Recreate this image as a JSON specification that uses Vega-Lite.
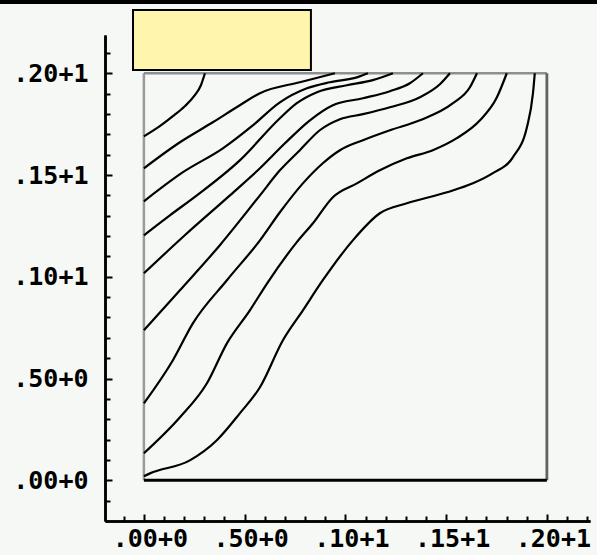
{
  "$schema": "https://vega.github.io/schema/vega-lite/v6.json",
  "width": 485,
  "height": 486,
  "autosize": "none",
  "padding": {"left": 105, "top": 35, "right": 7, "bottom": 34},
  "background": "#f5f8f4",
  "config": {
    "view": {"stroke": null},
    "axis": {
      "grid": false,
      "title": null,
      "domainColor": "#000000",
      "domainWidth": 2.5,
      "tickColor": "#000000",
      "tickWidth": 2,
      "tickSize": -5,
      "labelFont": "DejaVu Sans Mono",
      "labelFontWeight": "bold",
      "labelFontSize": 25,
      "labelColor": "#000000",
      "labelOverlap": false,
      "labelBound": false,
      "labelFlush": false
    }
  },
  "resolve": {"axis": {"x": "independent", "y": "independent"}},
  "datasets": {
    "lines": [
      {"curve": 1, "i": 1, "x": 0, "y": 1.690},
      {"curve": 1, "i": 2, "x": 0.079, "y": 1.740},
      {"curve": 1, "i": 3, "x": 0.144, "y": 1.789},
      {"curve": 1, "i": 4, "x": 0.203, "y": 1.838},
      {"curve": 1, "i": 5, "x": 0.253, "y": 1.892},
      {"curve": 1, "i": 6, "x": 0.283, "y": 1.941},
      {"curve": 1, "i": 7, "x": 0.303, "y": 2.0},
      {"curve": 2, "i": 1, "x": 0, "y": 1.533},
      {"curve": 2, "i": 2, "x": 0.179, "y": 1.661},
      {"curve": 2, "i": 3, "x": 0.342, "y": 1.759},
      {"curve": 2, "i": 4, "x": 0.476, "y": 1.843},
      {"curve": 2, "i": 5, "x": 0.576, "y": 1.902},
      {"curve": 2, "i": 6, "x": 0.774, "y": 1.956},
      {"curve": 2, "i": 7, "x": 0.948, "y": 2.0},
      {"curve": 3, "i": 1, "x": 0, "y": 1.371},
      {"curve": 3, "i": 2, "x": 0.194, "y": 1.514},
      {"curve": 3, "i": 3, "x": 0.392, "y": 1.631},
      {"curve": 3, "i": 4, "x": 0.536, "y": 1.740},
      {"curve": 3, "i": 5, "x": 0.675, "y": 1.857},
      {"curve": 3, "i": 6, "x": 0.809, "y": 1.926},
      {"curve": 3, "i": 7, "x": 0.923, "y": 1.956},
      {"curve": 3, "i": 8, "x": 1.057, "y": 1.980},
      {"curve": 3, "i": 9, "x": 1.112, "y": 2.0},
      {"curve": 4, "i": 1, "x": 0, "y": 1.204},
      {"curve": 4, "i": 2, "x": 0.129, "y": 1.302},
      {"curve": 4, "i": 3, "x": 0.263, "y": 1.400},
      {"curve": 4, "i": 4, "x": 0.476, "y": 1.572},
      {"curve": 4, "i": 5, "x": 0.675, "y": 1.779},
      {"curve": 4, "i": 6, "x": 0.759, "y": 1.853},
      {"curve": 4, "i": 7, "x": 0.859, "y": 1.907},
      {"curve": 4, "i": 8, "x": 1.007, "y": 1.941},
      {"curve": 4, "i": 9, "x": 1.136, "y": 1.966},
      {"curve": 4, "i": 10, "x": 1.236, "y": 2.0},
      {"curve": 5, "i": 1, "x": 0, "y": 1.017},
      {"curve": 5, "i": 2, "x": 0.203, "y": 1.204},
      {"curve": 5, "i": 3, "x": 0.427, "y": 1.400},
      {"curve": 5, "i": 4, "x": 0.576, "y": 1.533},
      {"curve": 5, "i": 5, "x": 0.700, "y": 1.656},
      {"curve": 5, "i": 6, "x": 0.824, "y": 1.769},
      {"curve": 5, "i": 7, "x": 0.938, "y": 1.843},
      {"curve": 5, "i": 8, "x": 1.087, "y": 1.877},
      {"curve": 5, "i": 9, "x": 1.221, "y": 1.912},
      {"curve": 5, "i": 10, "x": 1.320, "y": 1.951},
      {"curve": 5, "i": 11, "x": 1.385, "y": 2.0},
      {"curve": 6, "i": 1, "x": 0, "y": 0.737},
      {"curve": 6, "i": 2, "x": 0.179, "y": 0.934},
      {"curve": 6, "i": 3, "x": 0.377, "y": 1.155},
      {"curve": 6, "i": 4, "x": 0.576, "y": 1.400},
      {"curve": 6, "i": 5, "x": 0.675, "y": 1.523},
      {"curve": 6, "i": 6, "x": 0.774, "y": 1.622},
      {"curve": 6, "i": 7, "x": 0.873, "y": 1.720},
      {"curve": 6, "i": 8, "x": 0.973, "y": 1.774},
      {"curve": 6, "i": 9, "x": 1.087, "y": 1.799},
      {"curve": 6, "i": 10, "x": 1.221, "y": 1.833},
      {"curve": 6, "i": 11, "x": 1.370, "y": 1.882},
      {"curve": 6, "i": 12, "x": 1.469, "y": 1.946},
      {"curve": 6, "i": 13, "x": 1.519, "y": 2.0},
      {"curve": 7, "i": 1, "x": 0, "y": 0.378},
      {"curve": 7, "i": 2, "x": 0.144, "y": 0.590},
      {"curve": 7, "i": 3, "x": 0.243, "y": 0.771},
      {"curve": 7, "i": 4, "x": 0.412, "y": 0.983},
      {"curve": 7, "i": 5, "x": 0.576, "y": 1.179},
      {"curve": 7, "i": 6, "x": 0.675, "y": 1.317},
      {"curve": 7, "i": 7, "x": 0.789, "y": 1.459},
      {"curve": 7, "i": 8, "x": 0.888, "y": 1.558},
      {"curve": 7, "i": 9, "x": 0.973, "y": 1.622},
      {"curve": 7, "i": 10, "x": 1.087, "y": 1.671},
      {"curve": 7, "i": 11, "x": 1.221, "y": 1.720},
      {"curve": 7, "i": 12, "x": 1.370, "y": 1.769},
      {"curve": 7, "i": 13, "x": 1.534, "y": 1.853},
      {"curve": 7, "i": 14, "x": 1.618, "y": 1.931},
      {"curve": 7, "i": 15, "x": 1.653, "y": 2.0},
      {"curve": 8, "i": 1, "x": 0, "y": 0.133},
      {"curve": 8, "i": 2, "x": 0.179, "y": 0.310},
      {"curve": 8, "i": 3, "x": 0.313, "y": 0.477},
      {"curve": 8, "i": 4, "x": 0.412, "y": 0.673},
      {"curve": 8, "i": 5, "x": 0.526, "y": 0.835},
      {"curve": 8, "i": 6, "x": 0.615, "y": 0.973},
      {"curve": 8, "i": 7, "x": 0.759, "y": 1.170},
      {"curve": 8, "i": 8, "x": 0.839, "y": 1.263},
      {"curve": 8, "i": 9, "x": 0.938, "y": 1.391},
      {"curve": 8, "i": 10, "x": 1.057, "y": 1.459},
      {"curve": 8, "i": 11, "x": 1.171, "y": 1.523},
      {"curve": 8, "i": 12, "x": 1.305, "y": 1.582},
      {"curve": 8, "i": 13, "x": 1.434, "y": 1.622},
      {"curve": 8, "i": 14, "x": 1.553, "y": 1.681},
      {"curve": 8, "i": 15, "x": 1.668, "y": 1.769},
      {"curve": 8, "i": 16, "x": 1.752, "y": 1.882},
      {"curve": 8, "i": 17, "x": 1.801, "y": 2.0},
      {"curve": 9, "i": 1, "x": 0, "y": 0.020},
      {"curve": 9, "i": 2, "x": 0.030, "y": 0.034},
      {"curve": 9, "i": 3, "x": 0.228, "y": 0.098},
      {"curve": 9, "i": 4, "x": 0.362, "y": 0.197},
      {"curve": 9, "i": 5, "x": 0.476, "y": 0.329},
      {"curve": 9, "i": 6, "x": 0.576, "y": 0.457},
      {"curve": 9, "i": 7, "x": 0.690, "y": 0.688},
      {"curve": 9, "i": 8, "x": 0.789, "y": 0.835},
      {"curve": 9, "i": 9, "x": 0.888, "y": 0.983},
      {"curve": 9, "i": 10, "x": 1.037, "y": 1.179},
      {"curve": 9, "i": 11, "x": 1.171, "y": 1.312},
      {"curve": 9, "i": 12, "x": 1.305, "y": 1.361},
      {"curve": 9, "i": 13, "x": 1.504, "y": 1.415},
      {"curve": 9, "i": 14, "x": 1.633, "y": 1.459},
      {"curve": 9, "i": 15, "x": 1.732, "y": 1.509},
      {"curve": 9, "i": 16, "x": 1.831, "y": 1.587},
      {"curve": 9, "i": 17, "x": 1.901, "y": 1.735},
      {"curve": 9, "i": 18, "x": 1.931, "y": 1.902},
      {"curve": 9, "i": 19, "x": 1.940, "y": 2.0}
    ],
    "edges": [
      {"edge": "left", "x": 0, "x2": 0, "y": 0, "y2": 2},
      {"edge": "top", "x": 0, "x2": 2, "y": 2, "y2": 2},
      {"edge": "right", "x": 2, "x2": 2, "y": 0, "y2": 2},
      {"edge": "bottom", "x": 0, "x2": 2, "y": 0, "y2": 0}
    ],
    "banner": [
      {"x": -0.054, "x2": 0.829, "y": 2.016, "y2": 2.311}
    ],
    "topbar": [
      {"x": -0.72, "x2": 2.26, "y": 2.352, "y2": 2.352}
    ]
  },
  "layer": [
    {
      "data": {"name": "edges"},
      "mark": {"type": "rule"},
      "encoding": {
        "x": {"field": "x", "type": "quantitative", "scale": {"domain": [-0.193, 2.214], "nice": false, "zero": false},
          "axis": {"orient": "bottom", "values": [0, 0.5, 1, 1.5, 2],
            "labelPadding": 12,
            "labelOffset": 6,
            "tickSize": -7,
            "labelExpr": "abs(datum.value) < 0.01 ? '.00+0' : abs(datum.value - 0.5) < 0.01 ? '.50+0' : abs(datum.value - 1) < 0.01 ? '.10+1' : abs(datum.value - 1.5) < 0.01 ? '.15+1' : '.20+1'"}},
        "x2": {"field": "x2"},
        "y": {"field": "y", "type": "quantitative", "scale": {"domain": [-0.2, 2.188], "nice": false, "zero": false},
          "axis": {"orient": "left", "values": [0, 0.5, 1, 1.5, 2],
            "labelPadding": 24,
            "tickSize": -7,
            "labelExpr": "abs(datum.value) < 0.01 ? '.00+0' : abs(datum.value - 0.5) < 0.01 ? '.50+0' : abs(datum.value - 1) < 0.01 ? '.10+1' : abs(datum.value - 1.5) < 0.01 ? '.15+1' : '.20+1'"}},
        "y2": {"field": "y2"},
        "color": {"field": "edge", "type": "nominal", "legend": null, "scale": {"domain": ["left", "top", "right", "bottom"], "range": ["#9a9c9a", "#8e908e", "#626462", "#000000"]}},
        "strokeWidth": {"field": "edge", "type": "nominal", "legend": null, "scale": {"domain": ["left", "top", "right", "bottom"], "range": [2.5, 3, 4, 4.5]}}
      }
    },
    {
      "data": {"name": "lines"},
      "mark": {"type": "line", "interpolate": "monotone", "color": "#000000", "strokeWidth": 2.2},
      "encoding": {
        "x": {"field": "x", "type": "quantitative", "scale": {"domain": [-0.193, 2.214], "nice": false, "zero": false},
          "axis": {"orient": "bottom", "values": [-0.1, 0.1, 0.2, 0.3, 0.4, 0.6, 0.7, 0.8, 0.9, 1.1, 1.2, 1.3, 1.4, 1.6, 1.7, 1.8, 1.9, 2.1, 2.2], "labels": false}},
        "y": {"field": "y", "type": "quantitative", "scale": {"domain": [-0.2, 2.188], "nice": false, "zero": false},
          "axis": {"orient": "left", "values": [-0.1, 0.1, 0.2, 0.3, 0.4, 0.6, 0.7, 0.8, 0.9, 1.1, 1.2, 1.3, 1.4, 1.6, 1.7, 1.8, 1.9, 2.1], "labels": false}},
        "detail": {"field": "curve", "type": "nominal"},
        "order": {"field": "i", "type": "quantitative"}
      }
    },
    {
      "data": {"name": "banner"},
      "mark": {"type": "rect", "fill": "#fff5ad", "stroke": "#000000", "strokeWidth": 2},
      "encoding": {
        "x": {"field": "x", "type": "quantitative", "scale": {"domain": [-0.193, 2.214], "nice": false, "zero": false}, "axis": null},
        "x2": {"field": "x2"},
        "y": {"field": "y", "type": "quantitative", "scale": {"domain": [-0.2, 2.188], "nice": false, "zero": false}, "axis": null},
        "y2": {"field": "y2"}
      }
    },
    {
      "data": {"name": "topbar"},
      "mark": {"type": "rule", "color": "#000000", "strokeWidth": 5},
      "encoding": {
        "x": {"field": "x", "type": "quantitative", "scale": {"domain": [-0.193, 2.214], "nice": false, "zero": false}, "axis": null},
        "x2": {"field": "x2"},
        "y": {"field": "y", "type": "quantitative", "scale": {"domain": [-0.2, 2.188], "nice": false, "zero": false}, "axis": null},
        "y2": {"field": "y2"}
      }
    }
  ]
}
